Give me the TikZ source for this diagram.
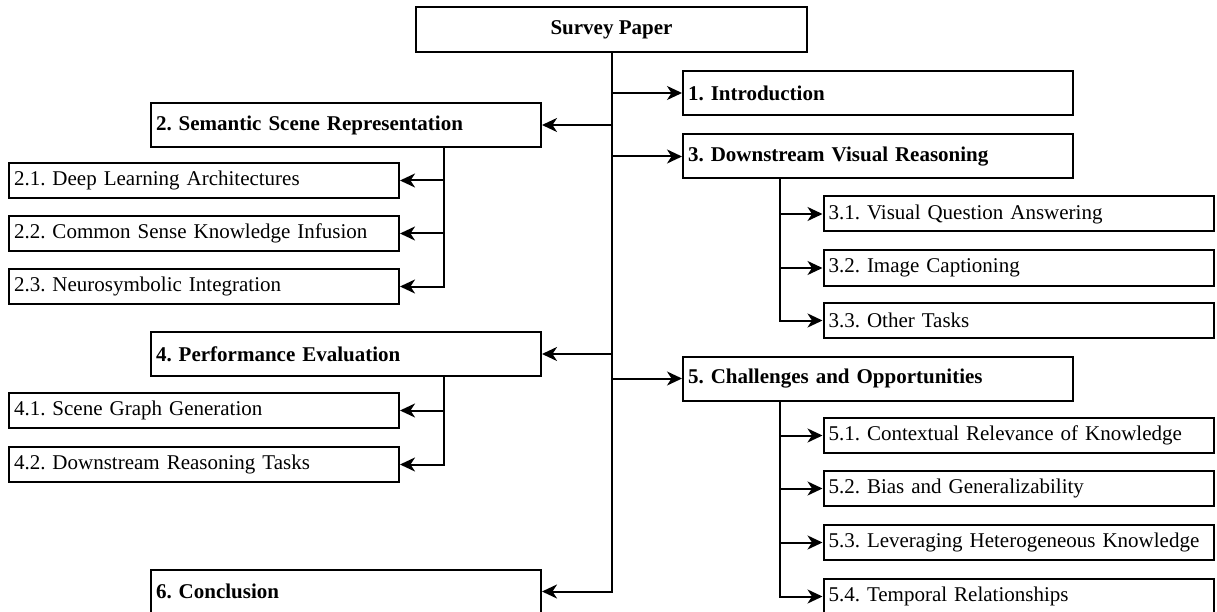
\documentclass[tikz,border=0pt]{standalone}
\usepackage{fontspec}
\setmainfont{Liberation Serif}
\usetikzlibrary{arrows.meta}
\frenchspacing
\begin{document}
\begin{tikzpicture}[x=1pt,y=-1pt,
  every node/.style={font=\fontsize{21}{25}\selectfont},
  sect/.style={draw, line width=2pt, minimum height=44pt, text width=380pt, inner xsep=5pt, align=left, font=\fontsize{21}{25}\selectfont\bfseries},
  sub/.style={draw, line width=2pt, minimum height=35pt, text width=380pt, inner xsep=5pt, align=left},
  arr/.style={-{Stealth[length=15pt,width=14pt,inset=4.5pt]}, line width=2pt}]
\useasboundingbox (0,0) rectangle (1217,612);
\node[draw, line width=2pt, minimum width=391pt, minimum height=45pt, font=\fontsize{21}{25}\selectfont\bfseries] (top) at (611.5,29.5){Survey Paper};
% sections
\node[sect] (sec1) at (878,93){1. Introduction};
\node[sect] (sec2) at (346,125){2. Semantic Scene Representation};
\node[sect] (sec3) at (878,156.5){3. Downstream Visual Reasoning};
\node[sect] (sec4) at (346,354){4. Performance Evaluation};
\node[sect] (sec5) at (878,378.5){5. Challenges and Opportunities};
\node[sect] (sec6) at (346,591.5){6. Conclusion};
% subsections
\node[sub] (sub21) at (204,180.5){2.1. Deep Learning Architectures};
\node[sub] (sub22) at (204,233.5){2.2. Common Sense Knowledge Infusion};
\node[sub] (sub23) at (204,286.5){2.3. Neurosymbolic Integration};
\node[sub] (sub31) at (1018.5,214){3.1. Visual Question Answering};
\node[sub] (sub32) at (1018.5,268){3.2. Image Captioning};
\node[sub] (sub33) at (1018.5,320.5){3.3. Other Tasks};
\node[sub] (sub41) at (204,410.5){4.1. Scene Graph Generation};
\node[sub] (sub42) at (204,464.5){4.2. Downstream Reasoning Tasks};
\node[sub] (sub51) at (1018.5,435.5){5.1. Contextual Relevance of Knowledge};
\node[sub] (sub52) at (1018.5,488.5){5.2. Bias and Generalizability};
\node[sub] (sub53) at (1018.5,542.5){5.3. Leveraging Heterogeneous Knowledge};
\node[sub] (sub54) at (1018.5,596.5){5.4. Temporal Relationships};
% trunk
\draw[arr] (top.south) -- (top.south |- sec6.east) -- (sec6.east);
\draw[arr] (top.south |- sec1.west) -- (sec1.west);
\draw[arr] (top.south |- sec2.east) -- (sec2.east);
\draw[arr] (top.south |- sec3.west) -- (sec3.west);
\draw[arr] (top.south |- sec4.east) -- (sec4.east);
\draw[arr] (top.south |- sec5.west) -- (sec5.west);
% branches
\coordinate (b2) at ([xshift=-98pt]sec2.south east);
\coordinate (b3) at ([xshift=98pt]sec3.south west);
\coordinate (b4) at ([xshift=-98pt]sec4.south east);
\coordinate (b5) at ([xshift=98pt]sec5.south west);
\draw[arr] (b2) |- (sub23.east);
\draw[arr] (b2 |- sub21.east) -- (sub21.east);
\draw[arr] (b2 |- sub22.east) -- (sub22.east);
\draw[arr] (b3) |- (sub33.west);
\draw[arr] (b3 |- sub31.west) -- (sub31.west);
\draw[arr] (b3 |- sub32.west) -- (sub32.west);
\draw[arr] (b4) |- (sub42.east);
\draw[arr] (b4 |- sub41.east) -- (sub41.east);
\draw[arr] (b5) |- (sub54.west);
\draw[arr] (b5 |- sub51.west) -- (sub51.west);
\draw[arr] (b5 |- sub52.west) -- (sub52.west);
\draw[arr] (b5 |- sub53.west) -- (sub53.west);
\end{tikzpicture}
\end{document}
